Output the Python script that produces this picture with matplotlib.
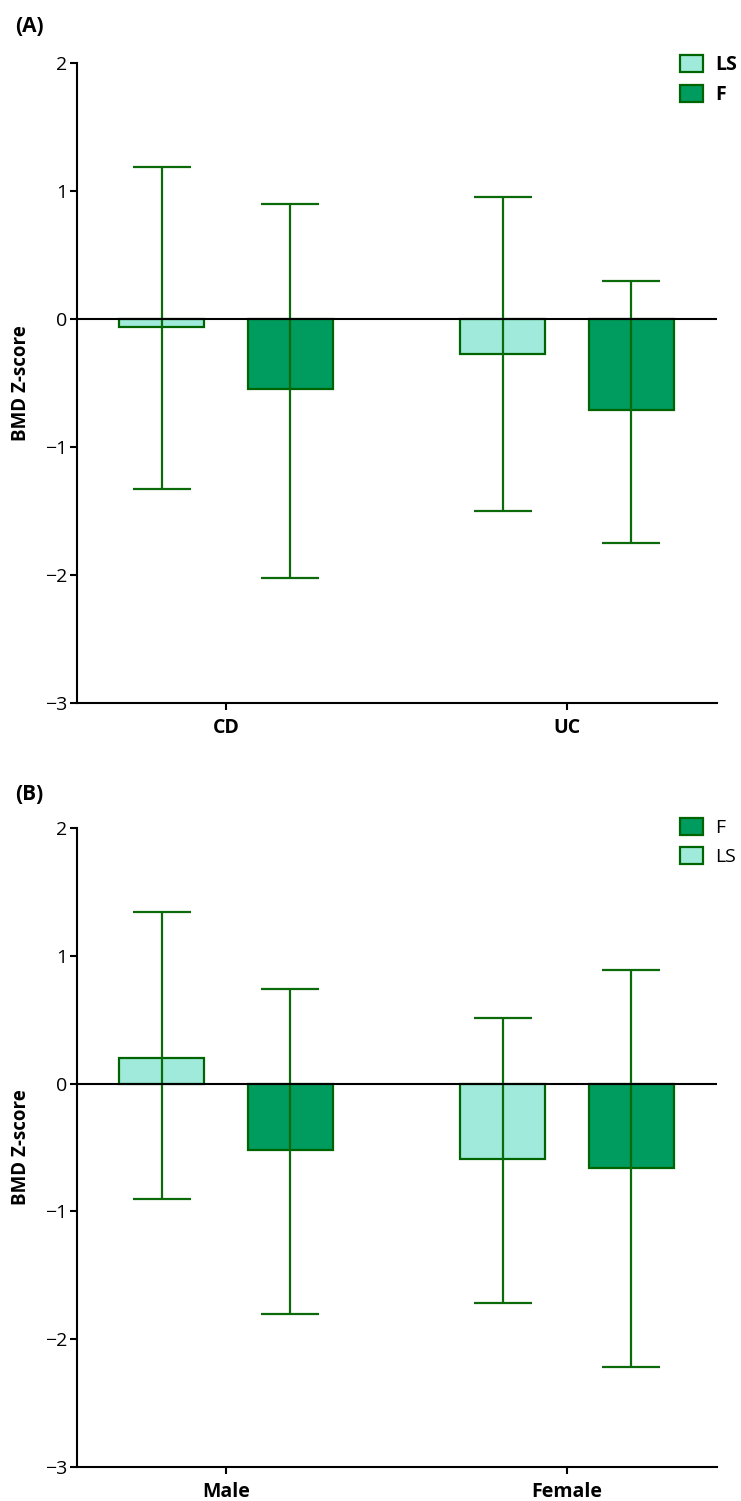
import matplotlib
matplotlib.use("Agg")
import matplotlib.pyplot as plt
import numpy as np

plt.rcParams['font.family'] = ['Open Sans', 'DejaVu Sans']

# Panel A: disease type
cats_a = ["CD", "UC"]
ls_a = [-0.06, -0.27]
ls_a_hi = [1.19, 0.95]
ls_a_lo = [-1.33, -1.50]
f_a = [-0.55, -0.71]
f_a_hi = [0.90, 0.30]
f_a_lo = [-2.02, -1.75]

# Panel B: sex
cats_b = ["Male", "Female"]
ls_b = [0.20, -0.59]
ls_b_hi = [1.34, 0.51]
ls_b_lo = [-0.90, -1.72]
f_b = [-0.52, -0.66]
f_b_hi = [0.74, 0.89]
f_b_lo = [-1.80, -2.22]

yticks = [2, 1, 0, -1, -2, -3]

LS_COL = "#a0eadb"
F_COL = "#009b5f"
EDGE = "#006400"
ERR = "#0b6b0b"

W, H = 741, 1501
fig = plt.figure(figsize=(W / 100, H / 100), dpi=100)
axA = fig.add_axes([77 / W, 1 - 703 / H, 640 / W, 640 / H])
axB = fig.add_axes([77 / W, 1 - 1467 / H, 640 / W, 639 / H])


def draw(ax, cats, ls, ls_hi, ls_lo, f, f_hi, f_lo, order, bold_legend, leg_top):
    x = np.arange(len(cats))
    w = 0.249
    off = 0.188
    ls, ls_hi, ls_lo = map(np.array, (ls, ls_hi, ls_lo))
    f, f_hi, f_lo = map(np.array, (f, f_hi, f_lo))
    b_ls = ax.bar(x - off, ls, w, color=LS_COL, edgecolor=EDGE, linewidth=1.6, label="LS", zorder=2)
    b_f = ax.bar(x + off, f, w, color=F_COL, edgecolor=EDGE, linewidth=1.6, label="F", zorder=2)
    ax.errorbar(x - off, ls, yerr=[ls - ls_lo, ls_hi - ls], fmt="none", ecolor=ERR,
                elinewidth=1.6, capsize=21, capthick=1.6, zorder=3)
    ax.errorbar(x + off, f, yerr=[f - f_lo, f_hi - f], fmt="none", ecolor=ERR,
                elinewidth=1.6, capsize=21, capthick=1.6, zorder=3)
    ax.axhline(0, color="black", linewidth=1.5, zorder=4)
    ax.set_xlim(-0.437, 1.44)
    ax.set_ylim(-3, 2)
    ax.set_yticks(yticks)
    ax.set_yticklabels([str(t).replace("-", "\u2212") for t in yticks], fontsize=14)
    ax.set_xticks(x)
    ax.set_xticklabels(cats, fontsize=14, fontweight="bold")
    ax.tick_params(direction="out", length=5, width=1.5)
    ax.tick_params(axis="x", pad=6)
    ax.tick_params(axis="y", pad=2)
    for s in ["top", "right"]:
        ax.spines[s].set_visible(False)
    for s in ["left", "bottom"]:
        ax.spines[s].set_linewidth(1.5)
    ax.set_ylabel("BMD Z-score", fontsize=13.5, fontweight="bold", labelpad=10)
    handles = {"LS": b_ls, "F": b_f}
    leg = ax.legend([handles[k] for k in order], order, loc="upper left",
                    bbox_to_anchor=(680 / W, 1 - leg_top / H), bbox_transform=fig.transFigure,
                    frameon=False, fontsize=14, handlelength=1.18, handleheight=1.0,
                    handletextpad=0.65, labelspacing=0.5, borderaxespad=0, borderpad=0)
    if bold_legend:
        for t in leg.get_texts():
            t.set_fontweight("bold")


draw(axA, cats_a, ls_a, ls_a_hi, ls_a_lo, f_a, f_a_hi, f_a_lo, ["LS", "F"], True, 55)
draw(axB, cats_b, ls_b, ls_b_hi, ls_b_lo, f_b, f_b_hi, f_b_lo, ["F", "LS"], False, 818)

fig.text(15 / W, 1 - 27 / H, "(A)", fontsize=15, fontweight="bold", va="center")
fig.text(15 / W, 1 - 794 / H, "(B)", fontsize=15, fontweight="bold", va="center")

fig.savefig("out.png", dpi=100)
